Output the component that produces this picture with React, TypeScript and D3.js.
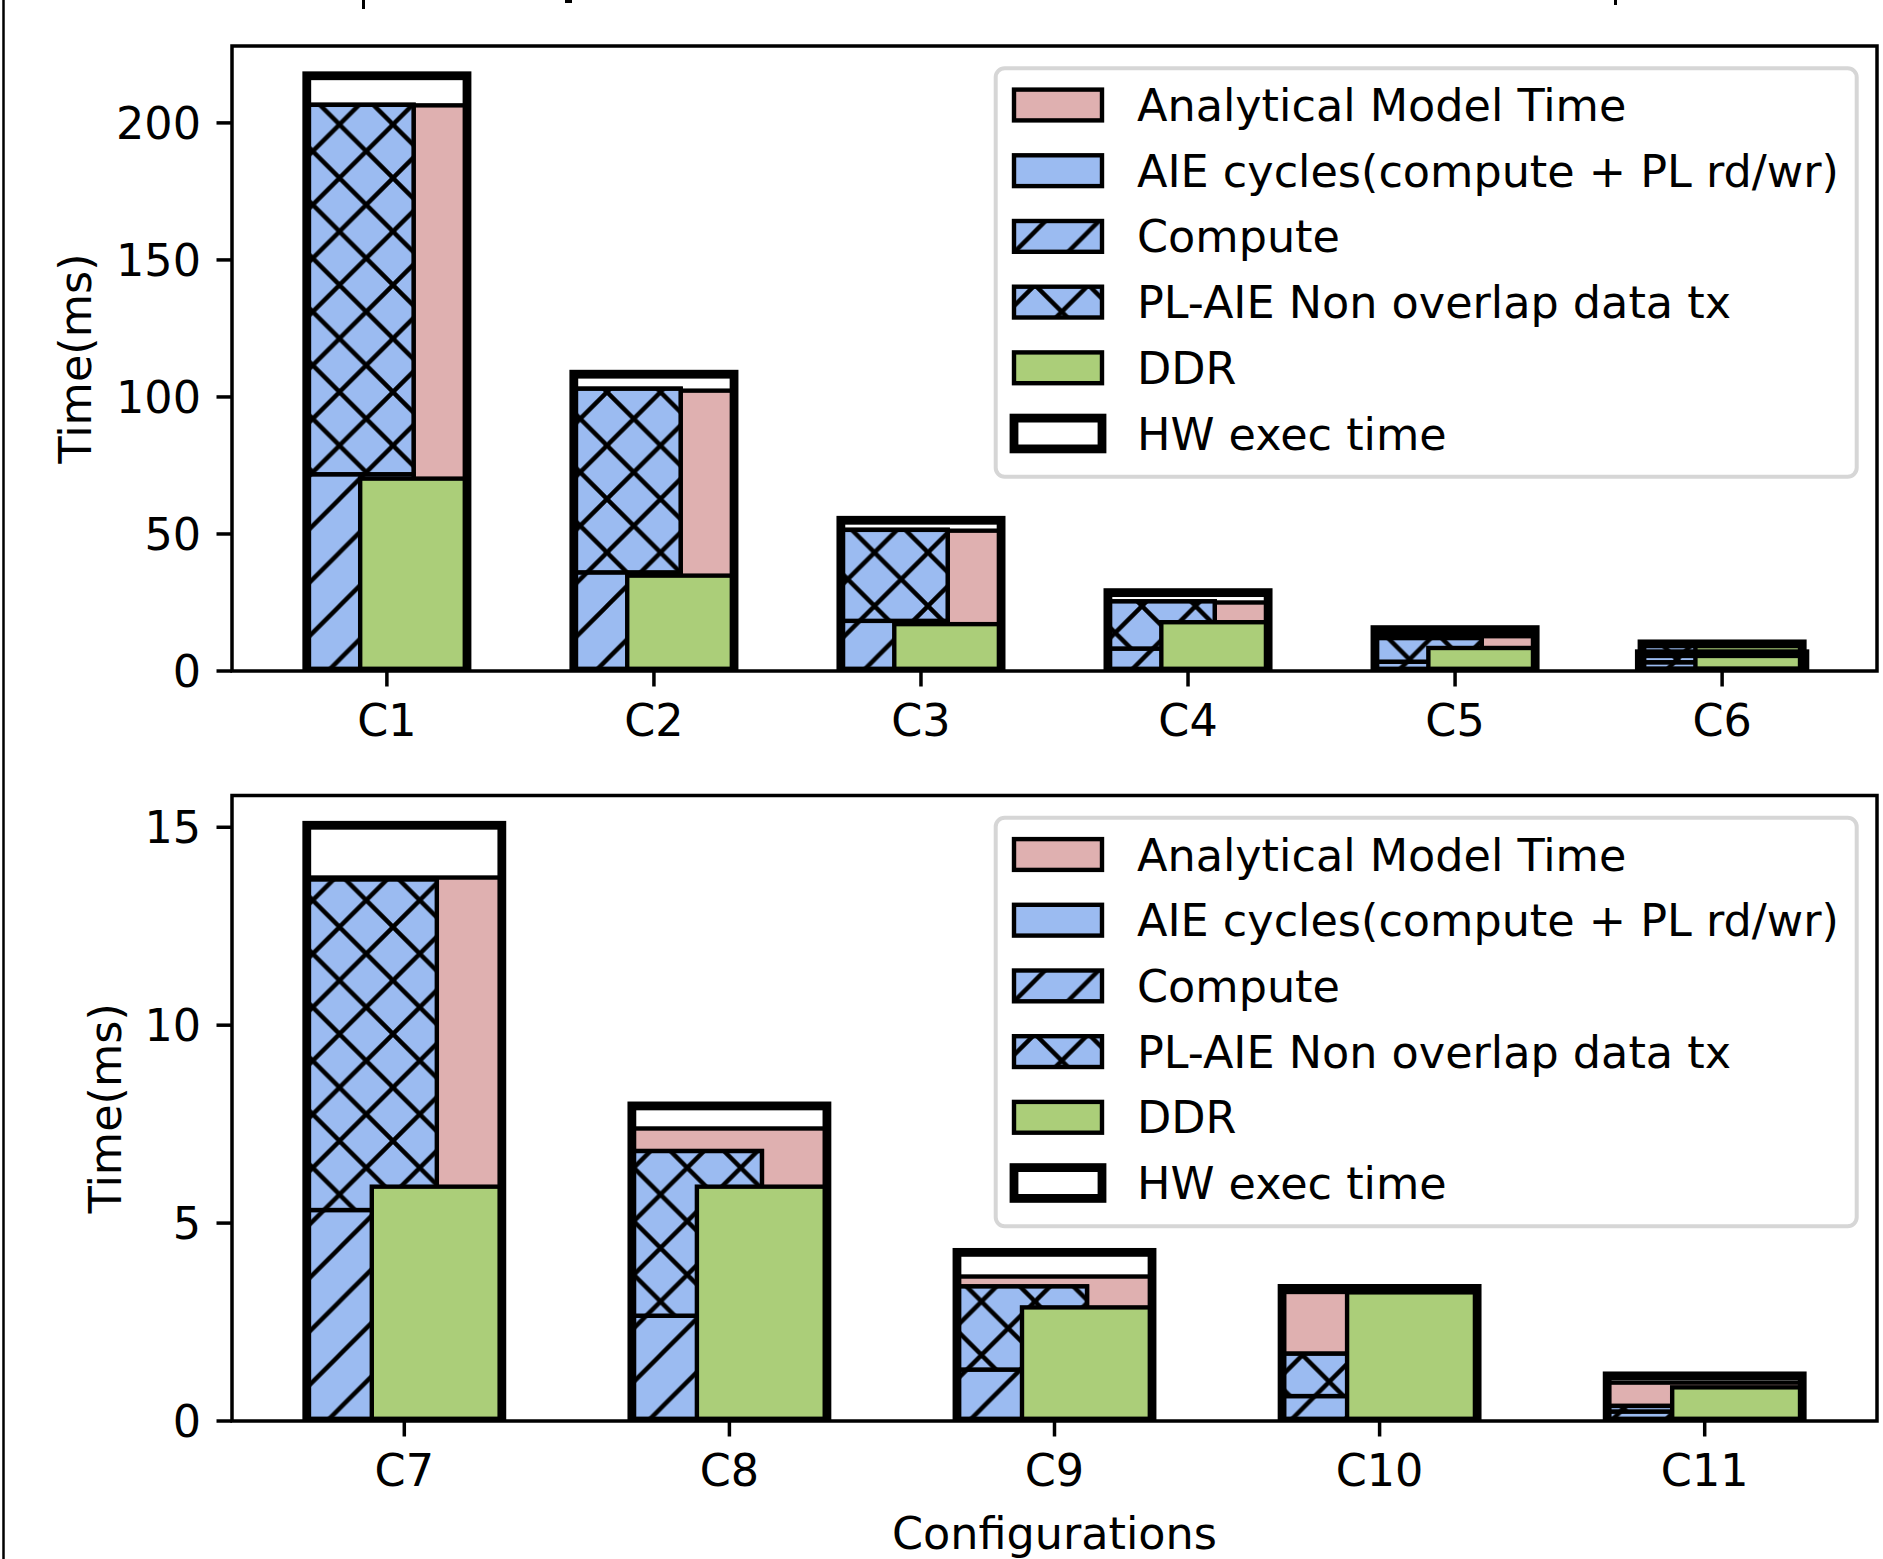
import React, { useEffect } from "react";
import * as d3 from "d3";

// ---------------- data ----------------
const topCategories = ["C1", "C2", "C3", "C4", "C5", "C6"];
const topHW = [217.2, 108.3, 55.0, 28.6, 15.1, 9.9];
const topHWExtra: (number | null)[] = [null, null, null, null, null, 6.3];
const topAnalytical = [206.4, 102.3, 51.2, 25.0, 12.7, 8.8];
const topAIE = [206.6, 103.0, 51.5, 25.4, 12.0, 9.3];
const topCompute = [71.8, 36.0, 18.3, 8.2, 3.4, 3.2];
const topDDR = [70.2, 34.8, 17.1, 17.8, 8.4, 9.3];
const topTicks = [0, 50, 100, 150, 200];

const botCategories = ["C7", "C8", "C9", "C10", "C11"];
const botHW = [15.05, 7.96, 4.26, 3.35, 1.14];
const botHWExtra: (number | null)[] = [null, null, null, null, null];
const botAnalytical = [13.73, 7.39, 3.65, 3.26, 0.97];
const botAIE = [13.68, 6.82, 3.4, 1.7, 0.38];
const botCompute = [5.33, 2.66, 1.3, 0.63, 0.24];
const botDDR = [5.92, 5.92, 2.87, 3.25, 0.85];
const botTicks = [0, 5, 10, 15];

const legendLabels = [
  "Analytical Model Time",
  "AIE cycles(compute + PL rd/wr)",
  "Compute",
  "PL-AIE Non overlap data tx",
  "DDR",
  "HW exec time",
];

// ---------------- style ----------------
const W = 1883;
const H = 1559;
const FONT = "DejaVu Sans, sans-serif";
const FS = 44.5;
const PINK = "#dfb0b0";
const BLUE = "#9bbbf1";
const GREEN = "#abce79";
const EDGE = 4.4;
const HW_EDGE = 8.8;
const HATCH = 53.5;

type PanelProps = {
  id: string;
  top: number;
  bottom: number;
  cats: string[];
  hw: number[];
  hwExtra: (number | null)[];
  analytical: number[];
  aie: number[];
  compute: number[];
  ddr: number[];
  ticks: number[];
  ylabelX: number;
  xlabel?: string;
};

const LEFT = 232;
const RIGHT = 1877;

function Panel(p: PanelProps) {
  const n = p.cats.length;
  const x = d3.scaleLinear().domain([-0.3 - 0.05 * (n - 0.4), n - 1 + 0.3 + 0.05 * (n - 0.4)]).range([LEFT, RIGHT]);
  const ymax = 1.05 * (d3.max(p.hw) as number);
  const y = d3.scaleLinear().domain([0, ymax]).range([p.bottom, p.top]);
  const rect = (x0: number, x1: number, v0: number, v1: number) => ({
    x: x(x0),
    y: y(v1),
    width: x(x1) - x(x0),
    height: y(v0) - y(v1),
  });
  const clipId = `clip-${p.id}`;
  const legTop = p.top + 22.3;
  const rowY = (k: number) => legTop + 36.7 + k * 65.7;
  const hx0 = 1014;
  const hw = 88;
  const hh = 30.8;
  return (
    <g>
      <defs>
        <clipPath id={clipId}>
          <rect x={LEFT} y={p.top} width={RIGHT - LEFT} height={p.bottom - p.top} />
        </clipPath>
      </defs>
      <rect x={LEFT} y={p.top} width={RIGHT - LEFT} height={p.bottom - p.top} fill="white" />
      <g clipPath={`url(#${clipId})`}>
        {p.cats.map((c, i) => {
          const pl = p.aie[i] - p.compute[i];
          const extra = p.hwExtra[i];
          return (
            <g key={c}>
              <rect {...rect(i - 0.3, i + 0.3, 0, p.analytical[i])} fill={PINK} stroke="black" strokeWidth={EDGE} />
              <rect {...rect(i - 0.3, i + 0.1, 0, p.aie[i])} fill={BLUE} stroke="black" strokeWidth={EDGE} />
              <rect {...rect(i - 0.3, i + 0.1, 0, p.compute[i])} fill={BLUE} />
              <rect {...rect(i - 0.3, i + 0.1, 0, p.compute[i])} fill="url(#hatchSlash)" stroke="black" strokeWidth={EDGE} />
              <rect {...rect(i - 0.3, i + 0.1, p.compute[i], p.compute[i] + pl)} fill={BLUE} />
              <rect {...rect(i - 0.3, i + 0.1, p.compute[i], p.compute[i] + pl)} fill="url(#hatchCross)" stroke="black" strokeWidth={EDGE} />
              <rect {...rect(i - 0.1, i + 0.3, 0, p.ddr[i])} fill={GREEN} stroke="black" strokeWidth={EDGE} />
              <rect {...rect(i - 0.3, i + 0.3, 0, p.hw[i])} fill="none" stroke="black" strokeWidth={HW_EDGE} />
              {extra !== null && (
                <rect {...rect(i - 0.31, i + 0.31, 0, extra)} fill="none" stroke="black" strokeWidth={HW_EDGE} />
              )}
            </g>
          );
        })}
      </g>
      {/* spines */}
      <rect x={LEFT} y={p.top} width={RIGHT - LEFT} height={p.bottom - p.top} fill="none" stroke="black" strokeWidth={3.5} />
      {/* y ticks */}
      {p.ticks.map((t) => (
        <g key={`yt${t}`}>
          <line x1={LEFT - 15.5} x2={LEFT} y1={y(t)} y2={y(t)} stroke="black" strokeWidth={3.5} />
          <text x={LEFT - 31} y={y(t) + 16} textAnchor="end" fontFamily={FONT} fontSize={FS} fill="black">
            {t}
          </text>
        </g>
      ))}
      {/* x ticks */}
      {p.cats.map((c, i) => (
        <g key={`xt${c}`}>
          <line x1={x(i)} x2={x(i)} y1={p.bottom} y2={p.bottom + 15.5} stroke="black" strokeWidth={3.5} />
          <text x={x(i)} y={p.bottom + 65} textAnchor="middle" fontFamily={FONT} fontSize={FS} fill="black">
            {c}
          </text>
        </g>
      ))}
      <text
        transform={`translate(${p.ylabelX},${(p.top + p.bottom) / 2}) rotate(-90)`}
        textAnchor="middle"
        dy={16}
        fontFamily={FONT}
        fontSize={FS}
        fill="black"
      >
        Time(ms)
      </text>
      {p.xlabel && (
        <text x={(LEFT + RIGHT) / 2} y={1549} textAnchor="middle" fontFamily={FONT} fontSize={FS} fill="black">
          {p.xlabel}
        </text>
      )}
      {/* legend */}
      <rect x={995.7} y={legTop} width={861} height={408.4} rx={9} ry={9} fill="white" fillOpacity={0.8} stroke="#d6d6d6" strokeWidth={4} />
      {legendLabels.map((lab, k) => {
        const cy = rowY(k);
        const r = { x: hx0, y: cy - hh / 2, width: hw, height: hh };
        let handle;
        if (k === 0) handle = <rect {...r} fill={PINK} stroke="black" strokeWidth={EDGE} />;
        else if (k === 1) handle = <rect {...r} fill={BLUE} stroke="black" strokeWidth={EDGE} />;
        else if (k === 2)
          handle = (
            <g>
              <rect {...r} fill={BLUE} />
              <rect {...r} fill="url(#hatchSlash)" stroke="black" strokeWidth={EDGE} />
            </g>
          );
        else if (k === 3)
          handle = (
            <g>
              <rect {...r} fill={BLUE} />
              <rect {...r} fill="url(#hatchCross)" stroke="black" strokeWidth={EDGE} />
            </g>
          );
        else if (k === 4) handle = <rect {...r} fill={GREEN} stroke="black" strokeWidth={EDGE} />;
        else handle = <rect {...r} fill="white" stroke="black" strokeWidth={HW_EDGE} />;
        return (
          <g key={lab}>
            {handle}
            <text x={1137} y={cy + 16} fontFamily={FONT} fontSize={FS} fill="black">
              {lab}
            </text>
          </g>
        );
      })}
    </g>
  );
}

export default function App() {
  useEffect(() => {
    document.body.style.margin = "0";
  }, []);
  const s = HATCH;
  const w = 6;
  const slash = `M0,${s} L${s},0 M${-w},${w} L${w},${-w} M${s - w},${s + w} L${s + w},${s - w}`;
  const back = `M0,0 L${s},${s} M${-w},${s - w} L${w},${s + w} M${s - w},${-w} L${s + w},${w}`;
  return (
    <svg width={W} height={H} style={{ display: "block", position: "absolute", left: 0, top: 0 }}>
      <defs>
        <pattern id="hatchSlash" patternUnits="userSpaceOnUse" width={s} height={s} x={18.5} y={17.5}>
          <path d={slash} stroke="black" strokeWidth={4.4} fill="none" />
        </pattern>
        <pattern id="hatchCross" patternUnits="userSpaceOnUse" width={s} height={s} x={18.5} y={17.5}>
          <path d={`${slash} ${back}`} stroke="black" strokeWidth={4.4} fill="none" />
        </pattern>
      </defs>
      <rect x={0} y={0} width={W} height={H} fill="white" />
      {/* frame fragments from the cropped page */}
      <line x1={3.5} x2={3.5} y1={0} y2={H} stroke="black" strokeWidth={2.5} />
      <rect x={362} y={0} width={3} height={9} fill="black" />
      <rect x={565} y={0} width={7} height={3} fill="black" />
      <rect x={1614} y={0} width={3} height={5} fill="black" />
      <Panel
        id="top"
        top={46}
        bottom={671}
        cats={topCategories}
        hw={topHW}
        hwExtra={topHWExtra}
        analytical={topAnalytical}
        aie={topAIE}
        compute={topCompute}
        ddr={topDDR}
        ticks={topTicks}
        ylabelX={75}
      />
      <Panel
        id="bot"
        top={795.5}
        bottom={1421}
        cats={botCategories}
        hw={botHW}
        hwExtra={botHWExtra}
        analytical={botAnalytical}
        aie={botAIE}
        compute={botCompute}
        ddr={botDDR}
        ticks={botTicks}
        ylabelX={105}
        xlabel="Configurations"
      />
    </svg>
  );
}
